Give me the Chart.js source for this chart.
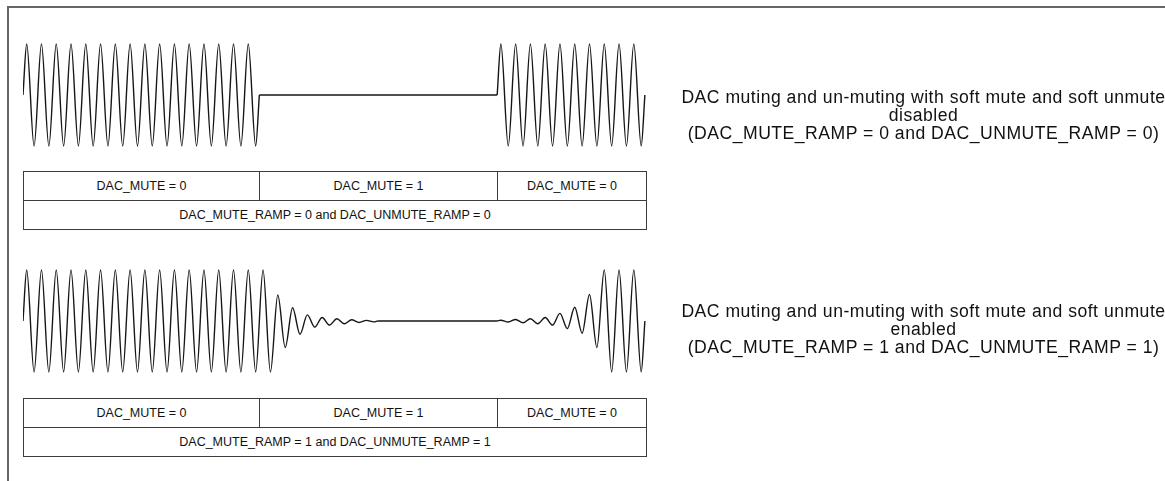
<!DOCTYPE html>
<html>
<head>
<meta charset="utf-8">
<script src="https://cdn.jsdelivr.net/npm/chart.js@4.4.0/dist/chart.umd.min.js"></script>
<style>
  body {
    margin: 0;
    width: 1165px;
    height: 481px;
    overflow: hidden;
    position: relative;
    background: #fff;
    font-family: "Liberation Sans", Arial, sans-serif;
    color: #111;
  }
  #moldura {
    position: absolute;
    left: 7px;
    top: 6px;
    width: 1200px;
    height: 500px;
    border-top: 2px solid #666;
    border-left: 2px solid #666;
  }
  canvas {
    position: absolute;
    left: 23px;
  }
  table.estado {
    position: absolute;
    left: 23px;
    width: 623px;
    border-collapse: collapse;
    table-layout: fixed;
    font-size: 12.5px;
  }
  table.estado td {
    border: 1px solid #3c3c3c;
    text-align: center;
    padding: 0;
  }
  table.estado tr {
    height: 29px;
  }
  .nota {
    position: absolute;
    left: 623px;
    width: 601px;
    text-align: center;
    font-size: 17.6px;
    letter-spacing: 0.5px;
    line-height: 18px;
    white-space: nowrap;
  }
</style>
</head>
<body>
<div id="moldura"></div>

<canvas id="ondaSemRampa" width="623" height="110" style="top:40px"></canvas>
<canvas id="ondaComRampa" width="623" height="110" style="top:266px"></canvas>

<table class="estado" style="top:171px">
  <colgroup><col style="width:236px"><col style="width:238px"><col style="width:149px"></colgroup>
  <tr><td>DAC_MUTE = 0</td><td>DAC_MUTE = 1</td><td>DAC_MUTE = 0</td></tr>
  <tr><td colspan="3">DAC_MUTE_RAMP = 0 and DAC_UNMUTE_RAMP = 0</td></tr>
</table>

<table class="estado" style="top:398px">
  <colgroup><col style="width:236px"><col style="width:238px"><col style="width:149px"></colgroup>
  <tr><td>DAC_MUTE = 0</td><td>DAC_MUTE = 1</td><td>DAC_MUTE = 0</td></tr>
  <tr><td colspan="3">DAC_MUTE_RAMP = 1 and DAC_UNMUTE_RAMP = 1</td></tr>
</table>

<div class="nota" style="top:88.2px">DAC muting and un-muting with soft mute and soft unmute<br>disabled<br>(DAC_MUTE_RAMP = 0 and DAC_UNMUTE_RAMP = 0)</div>
<div class="nota" style="top:302.2px">DAC muting and un-muting with soft mute and soft unmute<br>enabled<br>(DAC_MUTE_RAMP = 1 and DAC_UNMUTE_RAMP = 1)</div>

<script>
//Tempo em quartos de ciclo: picos e vales
const tempoSemRampa1 = [
  0, 1, 3, 5, 7, 9, 11, 13, 15, 17, 19, 21, 23, 25, 27, 29, 31,
  33, 35, 37, 39, 41, 43, 45, 47, 49, 51, 53, 55, 57, 59, 61, 63, 64,
];
const nivelSemRampa1 = [
  0,
  1, -1, 1, -1, 1, -1, 1, -1, 1, -1, 1, -1, 1, -1, 1, -1,
  1, -1, 1, -1, 1, -1, 1, -1, 1, -1, 1, -1, 1, -1, 1, -1,
  0,
];
const tempoMudoSemRampa = [64, 128.4];
const nivelMudoSemRampa = [0, 0];

//Volta do som (igual nos dois casos)
const tempoVolta = [
  128.4, 129.4, 131.4, 133.4, 135.4, 137.4, 139.4, 141.4, 143.4, 145.4, 147.4,
  149.4, 151.4, 153.4, 155.4, 157.4, 159.4, 161.4, 163.4, 165.4, 167.4, 168.4,
];
const nivelVoltaSemRampa = [
  0,
  1, -1, 1, -1, 1, -1, 1, -1, 1, -1, 1, -1, 1, -1, 1, -1, 1, -1, 1, -1,
  0,
];

//Com soft mute: sinal cheio e depois decaimento
const tempoComRampa1 = [
  0, 1, 3, 5, 7, 9, 11, 13, 15, 17, 19, 21, 23, 25, 27, 29, 31,
  33, 35, 37, 39, 41, 43, 45, 47, 49, 51, 53, 55, 57, 59, 61, 63,
  65, 67, 69, 71, 73, 75, 77, 79, 81, 83, 85, 87, 89, 91, 93, 95, 96,
];
const nivelComRampa1 = [
  0,
  1, -1, 1, -1, 1, -1, 1, -1, 1, -1, 1, -1, 1, -1, 1, -1,
  1, -1, 1, -1, 1, -1, 1, -1, 1, -1, 1, -1, 1, -1, 1, -1,
  1, -1,
  0.51, -0.52, 0.26, -0.26, 0.12, -0.12, 0.07, -0.08, 0.045, -0.055, 0.025, -0.03, 0.012, -0.018,
  0,
];
const tempoMudoComRampa = [96, 128.4];
const nivelMudoComRampa = [0, 0];
const nivelVoltaComRampa = [
  0,
  0.015, -0.02, 0.03, -0.035, 0.045, -0.055, 0.07, -0.08, 0.15, -0.15,
  0.27, -0.24, 0.52, -0.52, 1, -1, 1, -1, 1, -1,
  0,
];

function trecho(tempos, niveis) {
  return {
    data: tempos.map((t, i) => ({ x: t, y: niveis[i] })),
    borderColor: "#161616",
    borderWidth: 1.4,
    pointRadius: 0,
    fill: false,
    cubicInterpolationMode: "monotone",
    clip: false,
  };
}

function criarOnda(id, trechos) {
  const ctx = document.getElementById(id).getContext("2d");
  return new Chart(ctx, {
    type: "line",
    data: { datasets: trechos },
    options: {
      responsive: false,
      animation: false,
      devicePixelRatio: 1,
      layout: { padding: 0 },
      plugins: {
        legend: { display: false },
        tooltip: { enabled: false },
      },
      scales: {
        x: { type: "linear", min: 0, max: 168.7, display: false },
        y: { min: -1.08, max: 1.08, display: false },
      },
    },
  });
}

criarOnda("ondaSemRampa", [
  trecho(tempoSemRampa1, nivelSemRampa1),
  trecho(tempoMudoSemRampa, nivelMudoSemRampa),
  trecho(tempoVolta, nivelVoltaSemRampa),
]);

criarOnda("ondaComRampa", [
  trecho(tempoComRampa1, nivelComRampa1),
  trecho(tempoMudoComRampa, nivelMudoComRampa),
  trecho(tempoVolta, nivelVoltaComRampa),
]);
</script>
</body>
</html>
